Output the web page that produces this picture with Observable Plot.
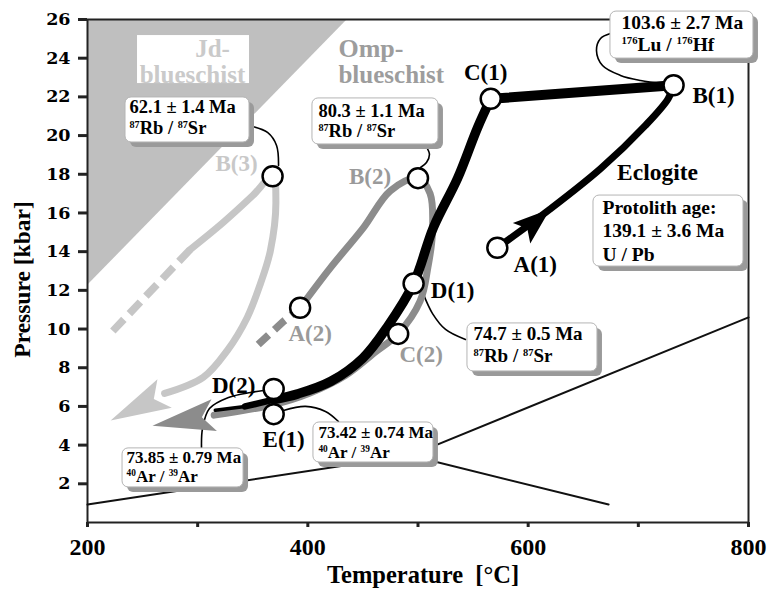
<!DOCTYPE html>
<html>
<head>
<meta charset="utf-8">
<script src="https://cdn.jsdelivr.net/npm/d3@7"></script>
<script src="https://cdn.jsdelivr.net/npm/@observablehq/plot@0.6"></script>
<style>
  body { margin: 0; background: #fff; }
</style>
</head>
<body>
<div id="chart"></div>
<script>
// ---------- Axes ----------
const tTicks = [200, 300, 400, 500, 600, 700, 800];
const tTickLabels = [200, 400, 600, 800];
const pTicks = [2, 4, 6, 8, 10, 12, 14, 16, 18, 20, 22, 24, 26];

// ---------- Stations on the three P–T loops (°C, kbar) ----------
const stationName = ["A(1)", "B(1)", "C(1)", "D(1)", "E(1)", "D(2)", "A(2)", "B(2)", "C(2)", "B(3)"];
const stationT    = [572, 732, 566, 496, 369, 369, 393, 500, 482, 368];
const stationP    = [14.2, 22.6, 21.9, 12.35, 5.6, 6.9, 11.1, 17.8, 9.75, 17.9];

// ---------- Loop 1 (eclogite) ----------
const loop1ProT  = [572, 620, 666, 706, 727, 732];
const loop1ProP  = [14.2, 16.2, 18.3, 20.5, 21.9, 22.6];
const loop1PeakT = [732, 566];
const loop1PeakP = [22.6, 21.9];
const loop1RetT  = [566, 554, 536, 514, 496, 472, 450, 421, 391, 369];
const loop1RetP  = [21.9, 20.4, 17.8, 15.25, 12.35, 10.1, 8.5, 7.3, 6.65, 6.35];
const loop1TailT = [369, 343];
const loop1TailP = [6.35, 6.0];
const loop1EndT  = [343, 316];
const loop1EndP  = [6.0, 5.8];

// ---------- Loop 2 (Omp-blueschist) ----------
const loop2DashT = [355, 378, 393];
const loop2DashP = [9.2, 10.4, 11.1];
const loop2T = [393, 421, 450, 475, 500, 511, 513, 509, 502, 482, 461, 434, 402, 369, 315];
const loop2P = [11.1, 13.2, 15.2, 17.15, 17.8, 17.0, 14.9, 13.2, 11.45, 9.75, 8.8, 7.6, 6.7, 6.1, 5.55];

// ---------- Loop 3 (Jd-blueschist) ----------
const loop3DashT = [223, 293];
const loop3DashP = [9.9, 14.1];
const loop3T = [293, 323, 350, 368, 371, 366, 357, 345, 327, 305, 270];
const loop3P = [14.1, 15.5, 16.9, 17.9, 16.6, 14.05, 12.35, 10.6, 8.9, 7.5, 6.67];

// ---------- Arrowheads (tip and base, per loop) ----------
const arrowLoop  = [1, 2, 3];
const arrowTipT  = [620, 259, 221];
const arrowTipP  = [16.2, 5.0, 5.27];
const arrowBaseT = [594, 315, 270];
const arrowBaseP = [14.95, 5.55, 6.67];

// ---------- Facies boundaries ----------
const jdFieldT = [200, 436];
const jdFieldP = [12.25, 26];
const boundaryLowT  = [200, 493];
const boundaryLowP  = [0.93, 3.46];
const boundaryHighT = [493, 800];
const boundaryHighP = [3.46, 10.6];
const boundaryDownT = [493, 673];
const boundaryDownP = [3.46, 0.93];

// ---------- Ages ----------
const ageMa     = [62.1, 80.3, 103.6, 139.1, 74.7, 73.85, 73.42];
const ageErr    = [1.4, 1.1, 2.7, 3.6, 0.5, 0.79, 0.74];
const ageMethod = ["⁸⁷Rb / ⁸⁷Sr", "⁸⁷Rb / ⁸⁷Sr", "¹⁷⁶Lu / ¹⁷⁶Hf", "U / Pb", "⁸⁷Rb / ⁸⁷Sr", "⁴⁰Ar / ³⁹Ar", "⁴⁰Ar / ³⁹Ar"];
const ageHeader = ["", "", "", "Protolith age:", "", "", ""];

// Leader lines from the age boxes to the dated stations (°C, kbar)
const leaderT = [
  [349.8, 363.4, 371.6, 373.4],
  [506.8, 510.4, 507.7, 502.3],
  [674.7, 665.7, 662.0, 667.5, 683.8, 702.0, 722.8],
  null,
  [505.0, 513.2, 525.0, 543.1],
  [303.5, 304.4, 310.7, 328.0, 348.0, 359.8],
  [377.9, 397.9, 416.0, 427.8]
];
const leaderP = [
  [20.47, 20.16, 19.49, 18.45],
  [19.49, 19.02, 18.61, 18.35],
  [25.28, 25.02, 24.40, 23.62, 23.11, 22.85, 22.69],
  null,
  [11.79, 10.80, 9.98, 9.46],
  [3.83, 4.86, 5.89, 6.46, 6.72, 6.82],
  [5.79, 6.00, 5.74, 5.22]
];

// Field names
const regionText = ["Jd-", "blueschist", "Omp-", "blueschist", "Eclogite"];
const regionT    = [313.5, 295.3, 427.8, 427.8, 717.4];
const regionP    = [24.04, 22.74, 24.04, 22.74, 17.68];

// ---------- Layout ----------
const W = 770, H = 590;
const ML = 87, MR = 22, MT = 19, MB = 68;
const tDomain = [200, 800], pDomain = [0, 26];
const sx = (W - ML - MR) / (tDomain[1] - tDomain[0]); // px per °C
const sy = (H - MT - MB) / (pDomain[1] - pDomain[0]); // px per kbar

const INK = {1: "#000000", 2: "#8c8c8c", 3: "#c6c6c6"};
const regionStyle = [
  {fill: "#cacaca", anchor: "middle", size: 25},
  {fill: "#cacaca", anchor: "middle", size: 25},
  {fill: "#9d9d9d", anchor: "start", size: 26},
  {fill: "#9d9d9d", anchor: "start", size: 25},
  {fill: "#000000", anchor: "middle", size: 23.5}
];
const jdBox = {T: 245.4, P: 25.17, w: 112, h: 48};

// Age box placement: top-left corner in data units, sizes in px
const boxLayout = [
  {T: 234.5, P: 21.97, w: 124, h: 45, pad: 4,  size: 18.5, lead: 21,   base: 16},
  {T: 404.2, P: 21.92, w: 126, h: 46, pad: 6,  size: 18.5, lead: 20,   base: 19},
  {T: 674.7, P: 26.41, w: 143, h: 47, pad: 11, size: 19.5, lead: 22,   base: 17},
  {T: 659.3, P: 16.90, w: 150, h: 71, pad: 9,  size: 19.5, lead: 23.5, base: 18},
  {T: 544.9, P: 10.29, w: 130, h: 48, pad: 6,  size: 19,   lead: 22,   base: 17},
  {T: 231.8, P: 3.83,  w: 121, h: 39, pad: 4,  size: 17,   lead: 19,   base: 15},
  {T: 405.1, P: 5.17,  w: 120, h: 40, pad: 5,  size: 17,   lead: 20,   base: 16}
];

// px offset from each circle centre to its label (centre of baseline)
const stationLabelOffset = {
  "A(1)": [38, 24], "B(1)": [40, 18], "C(1)": [-5, -19], "D(1)": [39, 14], "E(1)": [10, 33],
  "D(2)": [-40, 4], "A(2)": [10, 33], "B(2)": [-48, 6], "C(2)": [23, 28], "B(3)": [-36, -5]
};
const stationLabelInk = {
  "A(1)": "#000", "B(1)": "#000", "C(1)": "#000", "D(1)": "#000", "E(1)": "#000",
  "D(2)": "#000", "A(2)": "#9a9a9a", "B(2)": "#9a9a9a", "C(2)": "#9a9a9a", "B(3)": "#c8c8c8"
};

// ---------- Helpers ----------
const pts = (T, P) => T.map((t, i) => ({T: t, P: P[i]}));

function arrowHead(len, half) {
  const notch = len * 0.2;
  return {
    draw(ctx) {
      ctx.moveTo(0, 0);
      ctx.lineTo(-half, len);
      ctx.lineTo(0, len - notch);
      ctx.lineTo(half, len);
      ctx.closePath();
    }
  };
}

const marks = [];

// Jd-blueschist field
marks.push(Plot.areaY(jdFieldT.map((t, i) => ({T: t, P: jdFieldP[i], top: pDomain[1]})),
  {x: "T", y1: "P", y2: "top", fill: "#bfbfbf"}));
marks.push(Plot.rect([{x1: jdBox.T, x2: jdBox.T + jdBox.w / sx, y1: jdBox.P, y2: jdBox.P - jdBox.h / sy}],
  {x1: "x1", x2: "x2", y1: "y1", y2: "y2", fill: "white"}));

marks.push(Plot.frame({stroke: "#222", strokeWidth: 2}));

// Facies boundaries
for (const [T, P] of [[boundaryLowT, boundaryLowP], [boundaryHighT, boundaryHighP], [boundaryDownT, boundaryDownP]]) {
  marks.push(Plot.line(pts(T, P), {x: "T", y: "P", stroke: "#111", strokeWidth: 2}));
}

// Field names
regionText.forEach((txt, i) => {
  const st = regionStyle[i];
  marks.push(Plot.text([txt], {x: regionT[i], y: regionP[i], text: d => d, lineAnchor: "bottom",
    textAnchor: st.anchor, fontSize: st.size, fill: st.fill}));
});

// Leader lines
leaderT.forEach((T, i) => {
  if (!T) return;
  marks.push(Plot.line(pts(T, leaderP[i]), {x: "T", y: "P", curve: "catmull-rom", stroke: "#000", strokeWidth: 1.6}));
});

// Loop 3
marks.push(Plot.line(pts(loop3DashT, loop3DashP), {x: "T", y: "P", stroke: INK[3], strokeWidth: 7.5, strokeDasharray: "16,8", strokeLinecap: "butt"}));
marks.push(Plot.line(pts(loop3T, loop3P), {x: "T", y: "P", curve: "catmull-rom", stroke: INK[3], strokeWidth: 7, strokeLinecap: "round"}));

// Loop 2
marks.push(Plot.line(pts(loop2DashT, loop2DashP), {x: "T", y: "P", stroke: INK[2], strokeWidth: 7.5, strokeDasharray: "14,8", strokeLinecap: "butt"}));
marks.push(Plot.line(pts(loop2T, loop2P), {x: "T", y: "P", curve: "catmull-rom", stroke: INK[2], strokeWidth: 7, strokeLinecap: "round"}));

// Loop 1
marks.push(Plot.line(pts(loop1ProT, loop1ProP), {x: "T", y: "P", curve: "catmull-rom", stroke: INK[1], strokeWidth: 7, strokeLinecap: "round"}));
marks.push(Plot.line(pts(loop1PeakT, loop1PeakP), {x: "T", y: "P", stroke: INK[1], strokeWidth: 10, strokeLinecap: "round"}));
marks.push(Plot.line(pts(loop1RetT, loop1RetP), {x: "T", y: "P", curve: "catmull-rom", stroke: INK[1], strokeWidth: 9.5, strokeLinecap: "round", strokeLinejoin: "round"}));
marks.push(Plot.line(pts(loop1TailT, loop1TailP), {x: "T", y: "P", stroke: INK[1], strokeWidth: 6.5, strokeLinecap: "round"}));
marks.push(Plot.line(pts(loop1EndT, loop1EndP), {x: "T", y: "P", stroke: INK[1], strokeWidth: 3.5, strokeLinecap: "round"}));

// Arrowheads
arrowLoop.forEach((loop, i) => {
  const ux = (arrowTipT[i] - arrowBaseT[i]) * sx;
  const uy = -(arrowTipP[i] - arrowBaseP[i]) * sy;
  const len = Math.hypot(ux, uy);
  const angle = Math.atan2(ux, -uy) * 180 / Math.PI;
  const half = loop === 1 ? 13.5 : 16;
  marks.push(Plot.dot([{T: arrowTipT[i], P: arrowTipP[i]}], {x: "T", y: "P",
    symbol: arrowHead(len, half), rotate: angle, fill: INK[loop], stroke: "none"}));
});

// Stations
const stations = stationName.map((name, i) => ({name, T: stationT[i], P: stationP[i]}));
marks.push(Plot.dot(stations, {x: "T", y: "P", r: 10, fill: "white", stroke: "#000", strokeWidth: 2.5}));
stations.forEach(s => {
  const [ox, oy] = stationLabelOffset[s.name];
  marks.push(Plot.text([s], {x: "T", y: "P", text: "name", dx: ox, dy: oy, lineAnchor: "bottom",
    fontSize: 23, fill: stationLabelInk[s.name]}));
});

// Age boxes
const SH = 5;
ageMa.forEach((m, i) => {
  const b = boxLayout[i];
  const text = (ageHeader[i] ? ageHeader[i] + "\n" : "") + `${m} ± ${ageErr[i]} Ma\n${ageMethod[i]}`;
  const r = {x1: b.T, x2: b.T + b.w / sx, y1: b.P, y2: b.P - b.h / sy};
  const s = {x1: r.x1 + SH / sx, x2: r.x2 + SH / sx, y1: r.y1 - SH / sy, y2: r.y2 - SH / sy};
  marks.push(Plot.rect([s], {x1: "x1", x2: "x2", y1: "y1", y2: "y2", fill: "#9a9a9a", rx: 6}));
  marks.push(Plot.rect([r], {x1: "x1", x2: "x2", y1: "y1", y2: "y2", fill: "white", stroke: "#b4b4b4", strokeWidth: 1, rx: 6}));
  marks.push(Plot.text([text], {x: b.T, y: b.P, text: d => d, textAnchor: "start", lineAnchor: "top",
    dx: b.pad, dy: b.base - 0.71 * b.lead, lineHeight: b.lead / b.size, fontSize: b.size, fill: "#000"}));
});

// Axes
marks.push(Plot.axisX({ticks: tTicks, tickFormat: d => tTickLabels.includes(d) ? String(d) : "",
  tickSize: 5, tickPadding: 10, fontSize: 24, strokeWidth: 3, stroke: "#222", label: null}));
marks.push(Plot.axisY({ticks: pTicks, tickSize: 9, tickPadding: 8, fontSize: 17.5,
  fontFamily: "'DejaVu Serif', serif", strokeWidth: 3, stroke: "#222", label: null}));
marks.push(Plot.text(["Temperature\u00a0 [°C]"], {frameAnchor: "bottom", textAnchor: "middle", dx: 5, dy: 60, lineAnchor: "bottom", fontSize: 24.5, fill: "#000"}));
marks.push(Plot.text(["Pressure [kbar]"], {frameAnchor: "left", textAnchor: "middle", rotate: -90, dx: -65, dy: 8.5, lineAnchor: "middle", fontSize: 23.5, fill: "#000"}));

const chart = Plot.plot({
  width: W, height: H,
  marginLeft: ML, marginRight: MR, marginTop: MT, marginBottom: MB,
  x: {domain: tDomain},
  y: {domain: pDomain},
  style: {fontFamily: "'Liberation Serif', 'Times New Roman', serif", fontWeight: "bold", background: "white", color: "#000", overflow: "visible"},
  marks
});
document.getElementById("chart").append(chart);

// Set isotope mass numbers as small raised digits
const SUP = "⁰¹²³⁴⁵⁶⁷⁸⁹";
const supRe = /[⁰¹²³⁴-⁹]/;
chart.querySelectorAll("text, tspan").forEach(node => {
  if (node.children.length || !supRe.test(node.textContent)) return;
  const s = node.textContent;
  const f = parseFloat(getComputedStyle(node).fontSize);
  // carry the line offset of this tspan onto its first character
  let carry = 0;
  const pdy = node.getAttribute("dy");
  if (pdy) {
    carry = parseFloat(pdy) * (pdy.endsWith("em") ? f : 1);
    node.removeAttribute("dy");
  }
  node.textContent = "";
  let lift = 0, first = true;
  for (const run of s.match(/[⁰¹²³⁴-⁹]+|[^⁰¹²³⁴-⁹]+/g)) {
    const sup = supRe.test(run);
    const t = document.createElementNS("http://www.w3.org/2000/svg", "tspan");
    t.textContent = sup ? [...run].map(c => String(SUP.indexOf(c))).join("") : run;
    const shift = sup ? -0.36 * f : 0;
    const d = (shift - lift) + (first ? carry : 0);
    if (d !== 0) t.setAttribute("dy", d);
    lift = shift;
    first = false;
    if (sup) t.setAttribute("font-size", 0.55 * f);
    node.appendChild(t);
  }
});
</script>
</body>
</html>
